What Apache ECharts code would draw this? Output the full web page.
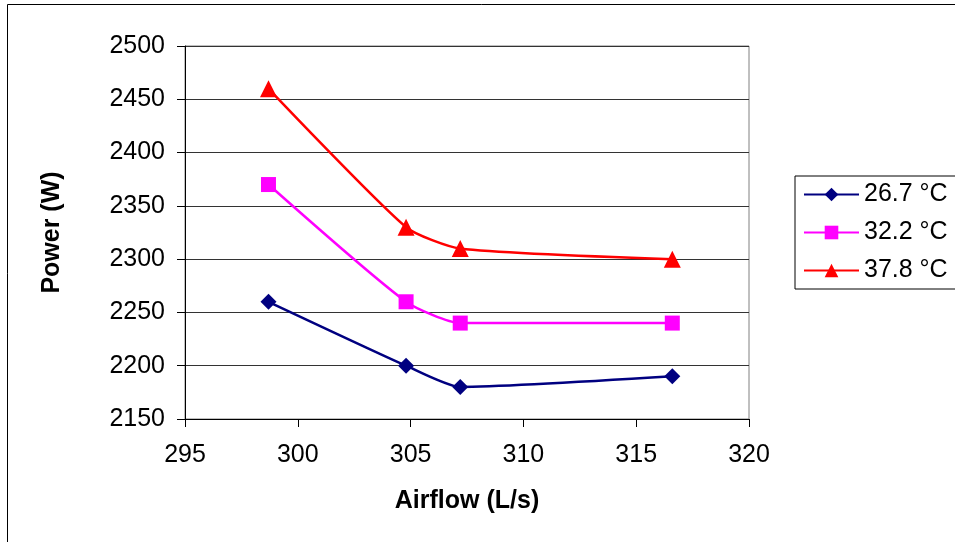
<!DOCTYPE html>
<html>
<head>
<meta charset="utf-8">
<script src="https://cdn.jsdelivr.net/npm/echarts@6/dist/echarts.min.js"></script>
<style>
html, body { margin: 0; padding: 0; background: #fff; }
#chart { width: 955px; height: 542px; }
</style>
</head>
<body>
<div id="chart"></div>
<script>
var chart = echarts.init(document.getElementById('chart'));

// data
var airflow = [298.7, 304.8, 307.2, 316.6];
var power267 = [2260, 2200, 2180, 2190];
var power322 = [2370, 2260, 2240, 2240];
var power378 = [2460, 2330, 2310, 2300];
var seriesNames = ['26.7 °C', '32.2 °C', '37.8 °C'];

function pairs(ys) {
    return airflow.map(function (x, i) { return [x, ys[i]]; });
}

var font = 'Liberation Sans, Arial, sans-serif';

var option = {
    backgroundColor: '#fff',
    animation: false,
    graphic: [{
        type: 'rect',
        shape: { x: 7.5, y: 4.5, width: 1000, height: 600 },
        style: { fill: 'none', stroke: '#000', lineWidth: 1 },
        silent: true
    }],
    grid: {
        left: 185,
        right: 206,
        top: 46,
        bottom: 123,
        show: true,
        borderColor: '#808080',
        borderWidth: 1
    },
    legend: {
        orient: 'vertical',
        left: 795,
        top: 176,
        padding: [6, 40, 6, 8],
        itemGap: 13,
        itemWidth: 55,
        itemHeight: 17,
        borderColor: '#000',
        borderWidth: 1,
        textStyle: { fontFamily: font, fontSize: 25, color: '#000' },
        data: seriesNames
    },
    xAxis: {
        type: 'value',
        min: 295,
        max: 320,
        interval: 5,
        name: 'Airflow (L/s)',
        nameLocation: 'middle',
        nameGap: 70,
        nameTextStyle: { fontFamily: font, fontSize: 25, fontWeight: 'bold', color: '#000' },
        axisLine: { lineStyle: { color: '#000', width: 1 } },
        axisTick: { show: true, length: 8, lineStyle: { color: '#000' } },
        axisLabel: { margin: 24, fontFamily: font, fontSize: 25, color: '#000' },
        splitLine: { show: false }
    },
    yAxis: {
        type: 'value',
        min: 2150,
        max: 2500,
        interval: 50,
        name: 'Power (W)',
        nameLocation: 'middle',
        nameGap: 120,
        nameTextStyle: { fontFamily: font, fontSize: 25, fontWeight: 'bold', color: '#000' },
        axisLine: { show: true, lineStyle: { color: '#000', width: 1 } },
        axisTick: { show: true, length: 8, lineStyle: { color: '#000' } },
        axisLabel: {
            margin: 20, fontFamily: font, fontSize: 25, color: '#000',
            formatter: function (v) { return String(v); }
        },
        splitLine: { show: true, lineStyle: { color: '#333', width: 1 } }
    },
    series: [{
        name: seriesNames[0],
        type: 'line',
        data: pairs(power267),
        smooth: 0.2,
        symbol: 'diamond',
        symbolSize: 16,
        color: '#000080',
        lineStyle: { width: 2.5, color: '#000080' },
        itemStyle: { color: '#000080' }
    }, {
        name: seriesNames[1],
        type: 'line',
        data: pairs(power322),
        smooth: 0.2,
        symbol: 'rect',
        symbolSize: 15,
        color: '#ff00ff',
        lineStyle: { width: 2.5, color: '#ff00ff' },
        itemStyle: { color: '#ff00ff' }
    }, {
        name: seriesNames[2],
        type: 'line',
        data: pairs(power378),
        smooth: 0.2,
        symbol: 'triangle',
        symbolSize: 17,
        color: '#ff0000',
        lineStyle: { width: 2.5, color: '#ff0000' },
        itemStyle: { color: '#ff0000' }
    }]
};
chart.setOption(option);
</script>
</body>
</html>
